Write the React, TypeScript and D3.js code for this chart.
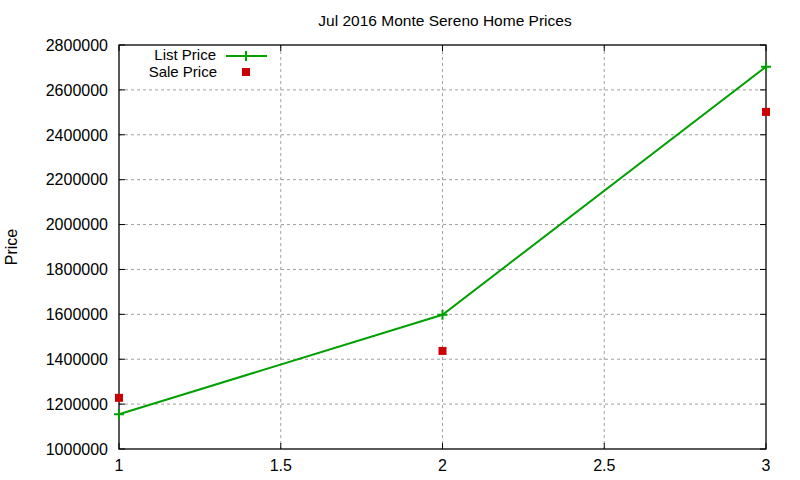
import * as d3 from "d3";
import React from "react";

const xValues = [1, 2, 3];
const listPrice = [1155000, 1598000, 2703000];
const salePrice = [1228000, 1437000, 2502000];
const yTicks = [1000000, 1200000, 1400000, 1600000, 1800000, 2000000, 2200000, 2400000, 2600000, 2800000];
const xTicks = [1, 1.5, 2, 2.5, 3];

const App: React.FC = () => {
  const width = 800;
  const height = 480;
  const margin = { top: 45, right: 34, bottom: 31, left: 119 };
  const innerW = width - margin.left - margin.right;
  const innerH = height - margin.top - margin.bottom;

  const x = d3.scaleLinear().domain([1, 3]).range([0, innerW]);
  const y = d3.scaleLinear().domain([1000000, 2800000]).range([innerH, 0]);

  const line = d3
    .line<number>()
    .x((_, i) => x(xValues[i]))
    .y((d) => y(d));

  const font = "'Liberation Sans', Arial, sans-serif";
  const green = "#00a000";
  const red = "#cc0000";

  return (
    <svg
      width={width}
      height={height}
      style={{ position: "absolute", left: 0, top: 0, background: "#fff" }}
      fontFamily={font}
    >
      <text x={445} y={26} textAnchor="middle" fontSize={15.5}>
        Jul 2016 Monte Sereno Home Prices
      </text>
      <text
        transform={`translate(17,${margin.top + innerH / 2}) rotate(-90)`}
        textAnchor="middle"
        fontSize={16}
      >
        Price
      </text>
      <g transform={`translate(${margin.left},${margin.top})`}>
        {/* grid */}
        {yTicks.slice(1, -1).map((t) => (
          <line
            key={`gy${t}`}
            x1={0}
            x2={innerW}
            y1={y(t)}
            y2={y(t)}
            stroke="#a0a0a0"
            strokeDasharray="3,3"
          />
        ))}
        {xTicks.slice(1, -1).map((t) => (
          <line
            key={`gx${t}`}
            x1={x(t)}
            x2={x(t)}
            y1={0}
            y2={innerH}
            stroke="#a0a0a0"
            strokeDasharray="3,3"
          />
        ))}
        {/* ticks */}
        {yTicks.map((t) => (
          <g key={`ty${t}`}>
            <line x1={0} x2={6} y1={y(t)} y2={y(t)} stroke="#000" />
            <line x1={innerW - 6} x2={innerW} y1={y(t)} y2={y(t)} stroke="#000" />
            <text x={-11} y={y(t)} dy="0.36em" textAnchor="end" fontSize={16}>
              {t}
            </text>
          </g>
        ))}
        {xTicks.map((t) => (
          <g key={`tx${t}`}>
            <line x1={x(t)} x2={x(t)} y1={innerH} y2={innerH - 6} stroke="#000" />
            <line x1={x(t)} x2={x(t)} y1={0} y2={6} stroke="#000" />
            <text x={x(t)} y={innerH + 22} textAnchor="middle" fontSize={16}>
              {t}
            </text>
          </g>
        ))}
        <rect x={0} y={0} width={innerW} height={innerH} fill="none" stroke="#000" strokeWidth={1.3} />
        {/* list price line */}
        <path d={line(listPrice) || ""} fill="none" stroke={green} strokeWidth={2} />
        {listPrice.map((v, i) => (
          <path
            key={`lp${i}`}
            d={`M${x(xValues[i]) - 5},${y(v)}h10M${x(xValues[i])},${y(v) - 5}v10`}
            stroke={green}
            strokeWidth={2}
          />
        ))}
        {salePrice.map((v, i) => (
          <rect
            key={`sp${i}`}
            x={x(xValues[i]) - 4}
            y={y(v) - 4}
            width={8}
            height={8}
            fill={red}
          />
        ))}
      </g>
      {/* legend */}
      <g fontSize={15}>
        <text x={216} y={55} dy="0.36em" textAnchor="end">
          List Price
        </text>
        <line x1={226} x2={267} y1={56} y2={56} stroke={green} strokeWidth={2} />
        <path d="M241,56h10M246,51v10" stroke={green} strokeWidth={2} />
        <text x={217} y={72} dy="0.36em" textAnchor="end">
          Sale Price
        </text>
        <rect x={242} y={68} width={8} height={8} fill={red} />
      </g>
    </svg>
  );
};

export default App;
